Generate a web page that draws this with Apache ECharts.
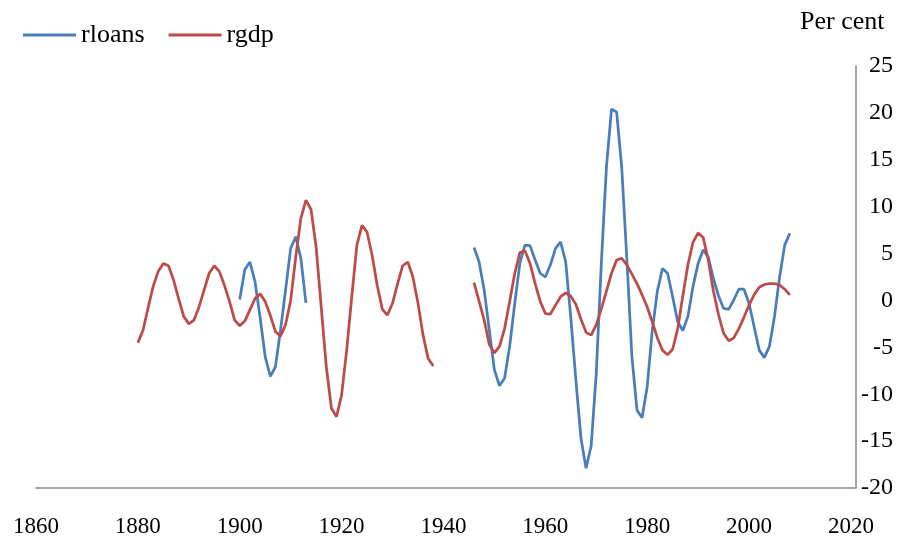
<!DOCTYPE html>
<html>
<head>
<meta charset="utf-8">
<script src="https://cdn.jsdelivr.net/npm/echarts@6/dist/echarts.min.js"></script>
<style>
  html, body { margin: 0; padding: 0; background: #fff; }
  #main { width: 919px; height: 550px; }
</style>
</head>
<body>
<div id="main"></div>
<script>
// x axis ticks (years)
var xTicks = [1860, 1880, 1900, 1920, 1940, 1960, 1980, 2000, 2020];
// y axis range, per cent
var yMin = -20, yMax = 25, yStep = 5;

// rloans, 1900-1913
var rloansStart1 = 1900;
var rloans1 = [0.1, 3.3, 4.1, 2.0, -1.8, -6.0, -8.1, -7.1, -3.2, 1.1, 5.55, 6.8, 4.5, -0.25];
// rloans, 1946-2008
var rloansStart2 = 1946;
var rloans2 = [5.65, 4.1, 1.1, -3.15, -7.4, -9.1, -8.3, -4.9, -0.3, 3.95,
  5.9, 5.85, 4.3, 2.9, 2.5, 3.8, 5.55, 6.25, 4.1, -1.8,
  -8.5, -14.7, -17.9, -15.5, -7.8, 4.0, 14.25, 20.4, 20.1, 14.2,
  4.5, -6.0, -11.7, -12.5, -9.2, -3.2, 1.0, 3.4, 2.9, 0.4,
  -2.3, -3.2, -1.7, 1.5, 3.95, 5.4, 4.6, 2.35, 0.5, -0.85,
  -0.95, 0.05, 1.2, 1.2, -0.3, -2.8, -5.3, -6.1, -4.9, -1.7,
  2.5, 5.9, 7.15];

// rgdp, 1880-1938
var rgdpStart1 = 1880;
var rgdp1 = [-4.5, -3.2, -0.8, 1.5, 3.1, 3.95, 3.7, 2.2, 0.2, -1.7,
  -2.5, -2.1, -0.7, 1.1, 2.9, 3.7, 3.1, 1.6, -0.1, -2.1,
  -2.7, -2.2, -1.0, 0.2, 0.7, -0.1, -1.6, -3.3, -3.8, -2.6,
  0.0, 4.65, 8.75, 10.7, 9.7, 5.7, -0.7, -7.1, -11.5, -12.4,
  -10.1, -5.3, 0.4, 5.9, 8.0, 7.3, 4.8, 1.6, -0.95, -1.55,
  -0.3, 1.8, 3.7, 4.1, 2.5, -0.3, -3.7, -6.2, -7.0];
// rgdp, 1946-2008
var rgdpStart2 = 1946;
var rgdp2 = [1.9, -0.1, -2.1, -4.7, -5.6, -4.9, -3.0, -0.1, 2.9, 5.1,
  5.3, 3.95, 1.8, -0.1, -1.4, -1.45, -0.5, 0.4, 0.8, 0.45,
  -0.4, -2.0, -3.4, -3.7, -2.6, -0.9, 1.0, 2.9, 4.3, 4.5,
  3.8, 2.8, 1.8, 0.6, -0.7, -2.3, -4.0, -5.3, -5.8, -5.2,
  -3.0, 0.5, 3.8, 6.2, 7.2, 6.7, 4.3, 1.0, -1.5, -3.5,
  -4.3, -4.0, -3.0, -1.8, -0.5, 0.6, 1.4, 1.7, 1.8, 1.8,
  1.65, 1.2, 0.6];

function toPairs(start, vals) {
  return vals.map(function (v, i) { return [start + i, v]; });
}
// two pieces with a break between them
function joinPieces(startA, a, startB, b) {
  return toPairs(startA, a).concat([[startA + a.length, null]], toPairs(startB, b));
}

var font = 'Liberation Serif';
var axisGrey = '#868686';

var chart = echarts.init(document.getElementById('main'));
chart.setOption({
  animation: false,
  textStyle: { fontFamily: font },
  title: {
    text: 'Per cent',
    left: 795, top: 4,
    textStyle: { fontFamily: font, fontSize: 26, fontWeight: 'normal', color: '#000' }
  },
  legend: {
    left: 18, top: 17,
    icon: 'rect',
    itemWidth: 53, itemHeight: 3,
    itemGap: 24,
    textStyle: { fontFamily: font, fontSize: 26, color: '#000' },
    data: ['rloans', 'rgdp']
  },
  grid: { left: 36, right: 63, top: 66, bottom: 62, containLabel: false },
  xAxis: {
    type: 'value',
    min: xTicks[0], max: 2021, interval: 20,
    splitLine: { show: false },
    axisTick: { show: false },
    axisLine: { onZero: false, lineStyle: { color: axisGrey, width: 1.5 } },
    axisLabel: {
      margin: 27, fontSize: 23, color: '#000', fontFamily: font,
      formatter: function (v) { return xTicks.indexOf(v) >= 0 ? String(v) : ''; }
    }
  },
  yAxis: {
    type: 'value', position: 'right',
    min: yMin, max: yMax, interval: yStep,
    splitLine: { show: false },
    axisTick: { show: false },
    axisLine: { show: true, onZero: false, lineStyle: { color: axisGrey, width: 1.5 } },
    axisLabel: { margin: 37, align: 'right', fontSize: 24, color: '#000', fontFamily: font }
  },
  series: [
    {
      name: 'rloans', type: 'line', showSymbol: false, symbol: 'none',
      connectNulls: false,
      lineStyle: { color: '#4A7EBB', width: 2.75 },
      itemStyle: { color: '#4A7EBB' },
      data: joinPieces(rloansStart1, rloans1, rloansStart2, rloans2)
    },
    {
      name: 'rgdp', type: 'line', showSymbol: false, symbol: 'none',
      connectNulls: false,
      lineStyle: { color: '#BE4B48', width: 2.75 },
      itemStyle: { color: '#BE4B48' },
      data: joinPieces(rgdpStart1, rgdp1, rgdpStart2, rgdp2)
    }
  ]
});
</script>
</body>
</html>
